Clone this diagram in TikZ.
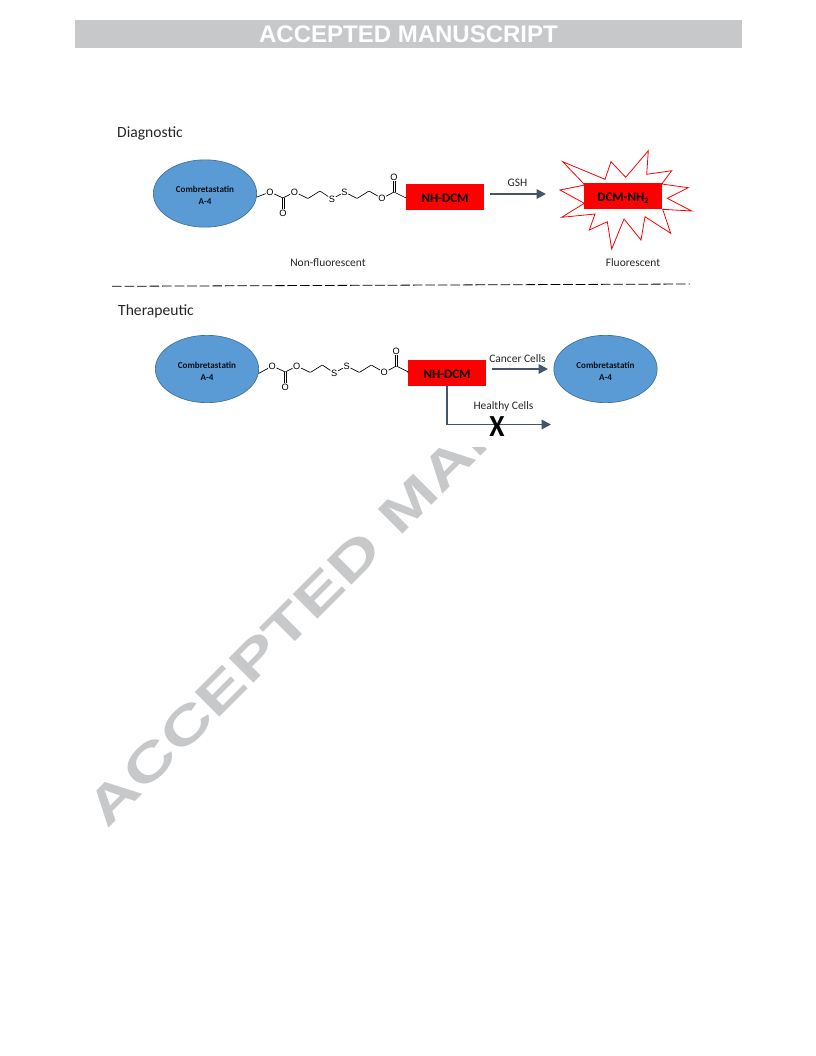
\documentclass[tikz,border=0pt]{standalone}
\usepackage{fontspec}
\setmainfont{Carlito}
\newfontfamily\headfont{Liberation Sans}
\usetikzlibrary{shapes.geometric,arrows.meta}
\definecolor{barGray}{HTML}{C7C8CA}
\definecolor{cellBlue}{HTML}{5B9BD5}
\definecolor{edgeBlue}{HTML}{41719C}
\definecolor{arrowSlate}{HTML}{44546A}
\tikzset{
  cell/.style={ellipse,draw=edgeBlue,line width=0.5pt,fill=cellBlue,minimum width=77.5pt,minimum height=50.5pt,inner sep=0pt,align=center,font=\fontsize{6.8}{9}\selectfont\bfseries,text=black!90!cellBlue},
  tagbox/.style={rectangle,fill=red,minimum width=58.5pt,minimum height=19.5pt,inner sep=0pt,text height=8.2pt,text depth=0pt,font=\fontsize{9.7}{11}\selectfont\bfseries},
  lab/.style={inner sep=0pt,font=\fontsize{8.6}{10}\selectfont,text=black!85},
  head/.style={inner sep=0pt,font=\fontsize{11.7}{13}\selectfont,text=black!85},
  flow/.style={draw=arrowSlate,line width=1.4pt,-{Triangle[length=7pt,width=7pt]}},
  atom/.style={inner sep=0.35pt,font=\headfont\fontsize{6.9}{7}\selectfont,text=black},
  vertexpt/.style={inner sep=0pt,minimum size=0pt},
  bond/.style={draw=black,line width=0.5pt},
  chain/.pic={
    \node[atom] (o1) at (270,192) {O};
    \node[vertexpt] (c1) at (283,198) {};
    \node[atom] (o2) at (283,213) {O};
    \node[atom] (o3) at (294.5,192) {O};
    \node[vertexpt] (c2) at (308,198.5) {};
    \node[vertexpt] (c3) at (320,191) {};
    \node[atom] (s1) at (332,199) {S};
    \node[atom] (s2) at (344.5,192) {S};
    \node[vertexpt] (c4) at (357,198.5) {};
    \node[vertexpt] (c5) at (369,191) {};
    \node[atom] (o4) at (382,198.5) {O};
    \node[vertexpt] (c6) at (394,192) {};
    \node[atom] (o5) at (394,177.5) {O};
    \node[vertexpt] (c7) at (406,198) {};
    \draw[bond] (o1) -- (c1) -- (o3) -- (c2) -- (c3) -- (s1) -- (s2) -- (c4) -- (c5) -- (o4) -- (c6) -- (c7);
    \draw[bond] ([xshift=-0.8pt]c1.center) -- ([xshift=-0.8pt]o2.north);
    \draw[bond] ([xshift=0.8pt]c1.center) -- ([xshift=0.8pt]o2.north);
    \draw[bond] ([xshift=-0.8pt]c6.center) -- ([xshift=-0.8pt]o5.south);
    \draw[bond] ([xshift=0.8pt]c6.center) -- ([xshift=0.8pt]o5.south);
  }
}
\begin{document}
\begin{tikzpicture}[x=0.75pt,y=-0.75pt]
\useasboundingbox (0,0) rectangle (816,1056);
% running header
\node[rectangle,fill=barGray,minimum width=500.25pt,minimum height=21pt,inner sep=0pt] (bar) at (408.5,34) {};
\node[inner sep=0pt,text=white,font=\headfont\fontsize{18}{20}\selectfont\bfseries] (hdr) at (408.5,34) {ACCEPTED MANUSCRIPT};
% watermark
\begin{scope}
\clip (0,447) rectangle (816,1056);
\node[inner sep=0pt,anchor=base west,rotate=45,text=barGray,font=\headfont\fontsize{38}{40}\selectfont\bfseries] (wm) at (107,830) {\scalebox{1.41}[1]{ACCEPTED MANUSCRIPT}};
\end{scope}
% diagnostic
\node[head] (diag) at (150,133.2) {Diagnostic};
\node[cell] (e1) at (205,193.5) {\rule{0pt}{8pt}Combretastatin\\A-4};
\pic (ma) at (0,0) {chain};
\node[tagbox] (r1) at (445,197) {NH-DCM};
\draw[bond] (e1.-4) -- (mao1);
\draw[bond] (mac7) -- (r1.west);
\coordinate (gs) at (490,194);
\coordinate (ge) at (546,194);
\draw[flow] (gs) -- (ge);
\node[lab] (gsh) at (517.5,182.5) {GSH};
\draw[red,line width=0.6pt,fill=white] (562.7,161.7) -- (605,179.3) -- (611,161.7) -- (625.7,177.3) -- (648.3,150.7) -- (646.7,174.3) -- (671.7,170.7) -- (661.7,184) -- (688.3,187.7) -- (667.3,198.3) -- (691.7,211) -- (662.7,209.3) -- (670.7,233.3) -- (645,216.7) -- (641,240) -- (624,219) -- (611.7,249) -- (607.3,221.7) -- (589.3,230) -- (595,214) -- (561.7,217.3) -- (584.3,203.3) -- (560,190) -- (585,185) -- cycle;
\node[tagbox] (r3) at (623,196) {DCM-NH\raisebox{-1.5pt}{\fontsize{6.2}{6}\selectfont 2}};
\node[lab] (nf) at (328,262.7) {Non-fluorescent};
\node[lab] (fl) at (633,262.7) {Fluorescent};
% divider
\coordinate (da) at (112,286.3);
\coordinate (db) at (690,284);
\draw[black,line width=0.6pt,dash pattern=on 7.2pt off 2.2pt] (da) -- (db);
% therapeutic
\node[head] (ther) at (156,311.2) {Therapeutic};
\node[cell] (e2) at (207,369) {\rule{0pt}{8pt}Combretastatin\\A-4};
\pic (mb) at (2.3,174) {chain};
\node[tagbox] (r2) at (447,373) {NH-DCM};
\draw[bond] (e2.-5) -- (mbo1);
\draw[bond] (mbc7) -- (r2.west);
\node[cell] (e3) at (605.5,369) {\rule{0pt}{8pt}Combretastatin\\A-4};
\coordinate (cs) at (492,369);
\coordinate (ce) at (548,369);
\draw[flow] (cs) -- (ce);
\node[lab] (cc) at (517.5,358.5) {Cancer Cells};
\coordinate (he) at (551,424.5);
\draw[flow] (r2.south) |- (he);
\node[lab] (hc) at (503.5,406.5) {Healthy Cells};
\node[inner sep=0pt,font=\fontsize{23}{24}\selectfont\bfseries,text=black] (x) at (497,427) {\scalebox{0.9}[1]{X}};
\end{tikzpicture}
\end{document}
